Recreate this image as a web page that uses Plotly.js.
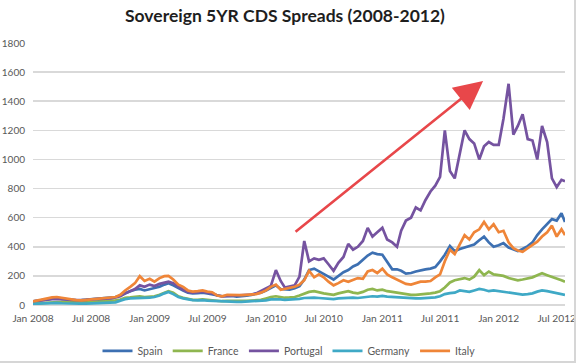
<!DOCTYPE html>
<html>
<head>
<meta charset="utf-8">
<script src="https://cdn.plot.ly/plotly-3.0.1.min.js"></script>
<style>
  html, body { margin: 0; padding: 0; background: #ffffff; }
  #wrap { position: relative; width: 578px; height: 364px; }
  #chart { width: 578px; height: 364px; }
  #frame { position: absolute; left: 0; top: 0; width: 576px; height: 363px; box-sizing: border-box;
           border-right: 2px solid #d6d6d6; border-bottom: 2px solid #d6d6d6; pointer-events: none; }
</style>
</head>
<body>
<div id="wrap"><div id="chart"></div><div id="frame"></div></div>
<script>
// Semi-monthly observation dates
const dates = [
"2008-01-01","2008-01-16","2008-02-01","2008-02-16","2008-03-01","2008-03-16","2008-04-01","2008-04-16","2008-05-01","2008-05-16","2008-06-01","2008-06-16",
"2008-07-01","2008-07-16","2008-08-01","2008-08-16","2008-09-01","2008-09-16","2008-10-01","2008-10-16","2008-11-01","2008-11-16","2008-12-01","2008-12-16",
"2009-01-01","2009-01-16","2009-02-01","2009-02-16","2009-03-01","2009-03-16","2009-04-01","2009-04-16","2009-05-01","2009-05-16","2009-06-01","2009-06-16",
"2009-07-01","2009-07-16","2009-08-01","2009-08-16","2009-09-01","2009-09-16","2009-10-01","2009-10-16","2009-11-01","2009-11-16","2009-12-01","2009-12-16",
"2010-01-01","2010-01-16","2010-02-01","2010-02-16","2010-03-01","2010-03-16","2010-04-01","2010-04-16","2010-05-01","2010-05-16","2010-06-01","2010-06-16",
"2010-07-01","2010-07-16","2010-08-01","2010-08-16","2010-09-01","2010-09-16","2010-10-01","2010-10-16","2010-11-01","2010-11-16","2010-12-01","2010-12-16",
"2011-01-01","2011-01-16","2011-02-01","2011-02-16","2011-03-01","2011-03-16","2011-04-01","2011-04-16","2011-05-01","2011-05-16","2011-06-01","2011-06-16",
"2011-07-01","2011-07-16","2011-08-01","2011-08-16","2011-09-01","2011-09-16","2011-10-01","2011-10-16","2011-11-01","2011-11-16","2011-12-01","2011-12-16",
"2012-01-01","2012-01-16","2012-02-01","2012-02-16","2012-03-01","2012-03-16","2012-04-01","2012-04-16","2012-05-01","2012-05-16","2012-06-01","2012-06-16",
"2012-07-01","2012-07-16","2012-07-27"
];

const spain = [
25,30, 35,40, 45,48, 42,38, 35,32, 33,36, 40,42, 45,45, 48,55, 65,80, 95,105, 110,100,
110,115, 125,140, 150,135, 115,100, 85,80, 82,85, 80,75, 65,60, 60,62, 58,60, 65,70, 75,85,
100,115, 135,110, 110,105, 115,130, 175,240, 250,230, 215,195, 175,200, 225,240, 265,280, 310,340, 360,350,
345,300, 245,245, 235,215, 220,230, 240,245, 250,260, 300,345, 405,370, 385,395, 400,415, 445,470, 430,400,
410,425, 395,380, 370,385, 405,430, 480,520, 560,590, 580,630, 570
];

const france = [
10,12, 15,18, 22,25, 22,20, 18,17, 18,20, 22,24, 25,26, 28,32, 38,50, 52,55, 60,55,
55,60, 70,85, 95,85, 60,50, 40,35, 35,38, 35,32, 28,26, 28,27, 25,26, 28,30, 30,35,
45,55, 60,55, 50,52, 55,65, 80,90, 95,85, 80,75, 70,80, 90,95, 85,80, 90,105, 110,100,
105,95, 90,85, 78,72, 70,70, 72,75, 80,85, 95,120, 155,170, 180,185, 175,195, 240,205, 230,210,
205,200, 185,175, 170,175, 185,190, 205,218, 205,195, 180,170, 160
];

const portugal = [
25,30, 35,38, 40,42, 38,36, 35,33, 32,35, 38,40, 40,42, 45,52, 60,80, 95,110, 135,125,
140,130, 145,155, 160,150, 125,105, 90,85, 88,92, 85,80, 65,60, 62,64, 62,65, 68,72, 80,95,
110,130, 240,165, 120,125, 135,195, 440,300, 320,310, 320,280, 235,290, 330,420, 380,400, 440,530, 470,500,
530,450, 430,400, 510,580, 600,670, 650,720, 780,820, 880,1200, 920,870, 1030,1200, 1140,1110, 1000,1090, 1120,1100,
1100,1280, 1520,1170, 1230,1310, 1140,1130, 1000,1230, 1120,870, 810,860, 850
];

const germany = [
8,10, 10,12, 15,14, 12,10, 10,9, 9,10, 11,12, 12,12, 14,18, 30,40, 45,45, 50,45,
50,55, 65,80, 90,75, 55,45, 38,33, 32,34, 30,28, 25,22, 22,23, 21,22, 23,24, 25,28,
32,38, 40,38, 35,37, 38,42, 48,50, 50,48, 45,42, 40,45, 48,52, 50,48, 52,58, 60,58,
62,58, 55,52, 50,48, 47,46, 45,46, 48,52, 60,75, 82,85, 100,95, 90,100, 110,105, 95,100,
95,90, 85,78, 75,72, 75,80, 92,100, 95,88, 80,75, 70
];

const italy = [
25,33, 40,45, 52,55, 48,42, 36,33, 32,35, 38,42, 44,45, 48,55, 70,100, 125,150, 198,165,
180,160, 185,198, 200,175, 140,125, 100,92, 95,100, 92,88, 65,60, 70,68, 65,68, 70,70, 75,85,
100,125, 140,105, 110,115, 125,140, 170,235, 190,210, 190,160, 135,150, 170,160, 175,185, 180,230, 240,220,
250,210, 190,175, 165,145, 140,150, 160,160, 165,190, 210,300, 380,350, 420,480, 450,500, 520,570, 520,555,
500,510, 430,390, 375,365, 390,410, 435,470, 500,545, 470,520, 480
];

const seriesNames = ["Spain", "France", "Portugal", "Germany", "Italy"];
const seriesColors = ["#3d70b2", "#8fb650", "#7553a0", "#3fa9c6", "#ef8538"];
const seriesValues = [spain, france, portugal, germany, italy];

const tickDates = ["2008-01-01","2008-07-01","2009-01-01","2009-07-01","2010-01-01","2010-07-01","2011-01-01","2011-07-01","2012-01-01","2012-07-01"];
const tickLabels = ["Jan 2008","Jul 2008","Jan 2009","Jul 2009","Jan 2010","Jul 2010","Jan 2011","Jul 2011","Jan 2012","Jul 2012"];

const traces = seriesNames.map((name, k) => ({
  type: "scatter",
  mode: "lines",
  name: name,
  x: dates,
  y: seriesValues[k],
  line: { color: seriesColors[k], width: 2.7 },
  hoverinfo: "skip"
}));

const FONT = "Lato, 'Open Sans', sans-serif";

const layout = {
  width: 578,
  height: 364,
  margin: { l: 33, r: 13, t: 43, b: 59, autoexpand: false },
  paper_bgcolor: "#ffffff",
  plot_bgcolor: "#ffffff",
  font: { family: FONT, color: "#595959", size: 10 },
  title: {
    text: "<b>Sovereign 5YR CDS Spreads (2008-2012)</b>",
    font: { family: FONT, size: 17.5, color: "#1e1e1e" },
    x: 0.493, xanchor: "center", xref: "container",
    y: 0.957, yanchor: "middle", yref: "container"
  },
  xaxis: {
    type: "date",
    range: ["2008-01-01", "2012-07-27"],
    tickvals: tickDates,
    ticktext: tickLabels,
    showgrid: false,
    zeroline: false,
    showline: false,
    ticks: "",
    automargin: false,
    ticklabelstandoff: 6,
    ticklabeloverflow: "allow",
    tickfont: { family: FONT, size: 10.2, color: "#595959" },
    fixedrange: true
  },
  yaxis: {
    range: [0, 1800],
    dtick: 200,
    tick0: 0,
    showgrid: true,
    gridcolor: "#d9d9d9",
    gridwidth: 1.6,
    zeroline: true,
    zerolinecolor: "#d9d9d9",
    zerolinewidth: 1.6,
    showline: false,
    ticks: "",
    automargin: false,
    ticklabelstandoff: 7,
    ticklabeloverflow: "allow",
    tickfont: { family: FONT, size: 10, color: "#595959" },
    fixedrange: true
  },
  legend: {
    orientation: "h",
    x: 0.5, xanchor: "center", xref: "container",
    y: 0.036, yanchor: "middle", yref: "container",
    font: { family: FONT, size: 10.5, color: "#595959" },
    bgcolor: "rgba(0,0,0,0)",
    itemwidth: 30
  },
  annotations: [{
    xref: "paper", yref: "paper",
    x: 0.846, y: 0.855,
    ax: -189, ay: 152,
    text: "",
    showarrow: true,
    arrowhead: 2,
    arrowsize: 2.2,
    arrowwidth: 2.6,
    arrowcolor: "#e8474a"
  }],
  showlegend: true
};

Plotly.newPlot("chart", traces, layout, { displayModeBar: false, staticPlot: true });
</script>
</body>
</html>
